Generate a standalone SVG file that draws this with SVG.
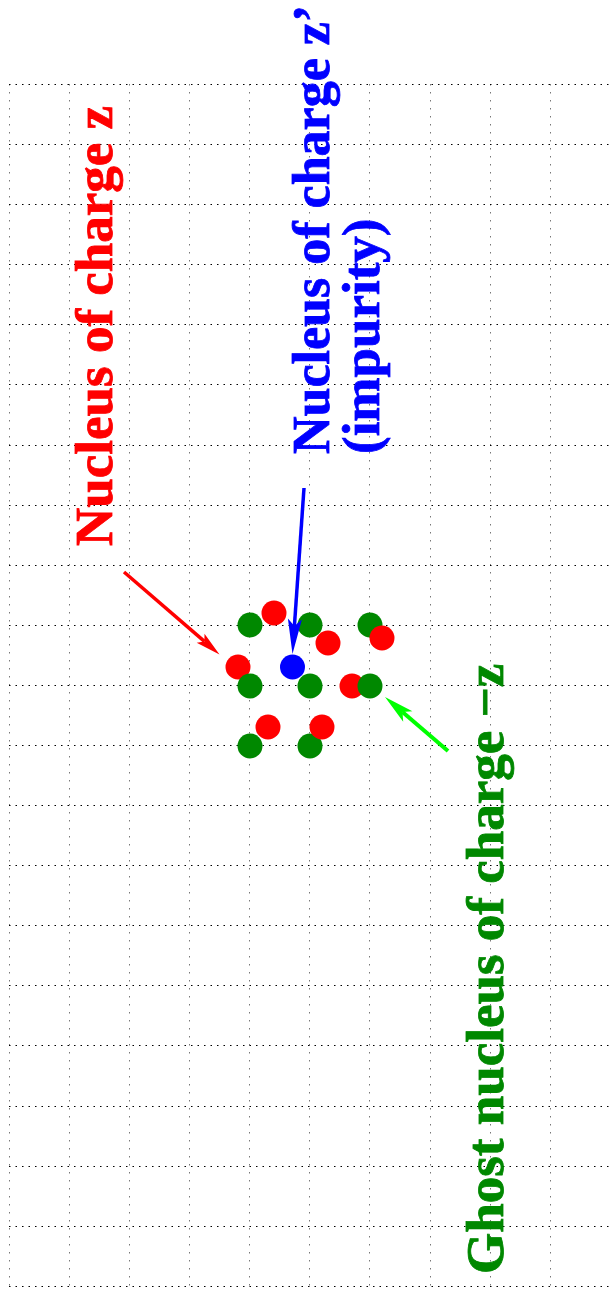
<svg xmlns="http://www.w3.org/2000/svg" width="610" height="1299" viewBox="0 0 610 1299">
<style>
.hg{stroke:#000;stroke-width:1;stroke-dasharray:1.5 5}
.vg{stroke:#777;stroke-width:1;stroke-dasharray:1.5 6.5}
.lbl{font-family:"Liberation Serif","Times New Roman",serif;font-weight:bold;font-size:53px;stroke-width:0.8}
.g{fill:#008800}
.r{fill:#ff0000}
.b{fill:#0000ff}
text.g{stroke:#008800}
text.r{stroke:#ff0000}
text.b{stroke:#0000ff}
</style>
<rect width="610" height="1299" fill="#fff"/>
<g id="grid">
<g class="vg">
<line x1="9.5" y1="84" x2="9.5" y2="1287"/>
<line x1="69.5" y1="84" x2="69.5" y2="1287"/>
<line x1="129.5" y1="84" x2="129.5" y2="1287"/>
<line x1="189.5" y1="84" x2="189.5" y2="1287"/>
<line x1="249.5" y1="84" x2="249.5" y2="1287"/>
<line x1="309.5" y1="84" x2="309.5" y2="1287"/>
<line x1="369.5" y1="84" x2="369.5" y2="1287"/>
<line x1="430.5" y1="84" x2="430.5" y2="1287"/>
<line x1="490.5" y1="84" x2="490.5" y2="1287"/>
<line x1="550.5" y1="84" x2="550.5" y2="1287"/>
</g>
<g class="hg">
<line x1="9" y1="84.5" x2="610" y2="84.5"/>
<line x1="9" y1="144.5" x2="610" y2="144.5"/>
<line x1="9" y1="204.5" x2="610" y2="204.5"/>
<line x1="9" y1="264.5" x2="610" y2="264.5"/>
<line x1="9" y1="324.5" x2="610" y2="324.5"/>
<line x1="9" y1="384.5" x2="610" y2="384.5"/>
<line x1="9" y1="445.5" x2="610" y2="445.5"/>
<line x1="9" y1="505.5" x2="610" y2="505.5"/>
<line x1="9" y1="565.5" x2="610" y2="565.5"/>
<line x1="9" y1="625.5" x2="610" y2="625.5"/>
<line x1="9" y1="685.5" x2="610" y2="685.5"/>
<line x1="9" y1="745.5" x2="610" y2="745.5"/>
<line x1="9" y1="805.5" x2="610" y2="805.5"/>
<line x1="9" y1="865.5" x2="610" y2="865.5"/>
<line x1="9" y1="925.5" x2="610" y2="925.5"/>
<line x1="9" y1="985.5" x2="610" y2="985.5"/>
<line x1="9" y1="1045.5" x2="610" y2="1045.5"/>
<line x1="9" y1="1106.5" x2="610" y2="1106.5"/>
<line x1="9" y1="1166.5" x2="610" y2="1166.5"/>
<line x1="9" y1="1226.5" x2="610" y2="1226.5"/>
<line x1="9" y1="1286.5" x2="610" y2="1286.5"/>
</g>
</g>
<g id="nuclei">
<circle class="r" cx="274" cy="613" r="12.5"/>
<circle class="r" cx="328" cy="643" r="12.5"/>
<circle class="r" cx="238" cy="667" r="12.5"/>
<circle class="r" cx="352" cy="686" r="12.5"/>
<circle class="r" cx="268" cy="727" r="12.5"/>
<circle class="g" cx="250" cy="625" r="12.5"/>
<circle class="g" cx="310" cy="625" r="12.5"/>
<circle class="g" cx="370" cy="625" r="12.5"/>
<circle class="g" cx="250" cy="686" r="12.5"/>
<circle class="g" cx="310" cy="686" r="12.5"/>
<circle class="g" cx="370" cy="686" r="12.5"/>
<circle class="g" cx="250" cy="746" r="12.5"/>
<circle class="g" cx="310" cy="746" r="12.5"/>
<circle class="r" cx="382" cy="638" r="12.5"/>
<circle class="r" cx="322" cy="727" r="12.5"/>
<circle class="b" cx="292.5" cy="667" r="12.5"/>
</g>
<g id="connectors">
<line x1="124" y1="572" x2="204.4" y2="641.4" stroke="#ff0000" stroke-width="3.5"/>
<polygon points="219.5,654.5 196.7,642.7 204.4,641.4 204.5,633.7" fill="#ff0000"/>
<line x1="304" y1="488" x2="294.4" y2="626" stroke="#0000ff" stroke-width="3.5"/>
<polygon points="292.5,654 287.9,618.6 294.4,626.1 301.9,619.6" fill="#0000ff"/>
<line x1="448" y1="751" x2="402.5" y2="712" stroke="#00ff00" stroke-width="4"/>
<polygon points="385,697 412.4,711.2 402.5,712 403.2,721.8" fill="#00ff00"/>
</g>
<g id="label-z">
<text class="lbl r" transform="translate(112,546) rotate(-90)">Nucleus of charge z</text>
</g>
<g id="label-impurity">
<text class="lbl b" font-size="52" transform="translate(329,454) rotate(-90)" style="font-size:52px">Nucleus of charge z’</text>
<text class="lbl b" transform="translate(379,454) rotate(-90)">(impurity)</text>
</g>
<g id="label-ghost">
<text class="lbl g" transform="translate(503,1274) rotate(-90)">Ghost nucleus of charge −z</text>
</g>
</svg>
